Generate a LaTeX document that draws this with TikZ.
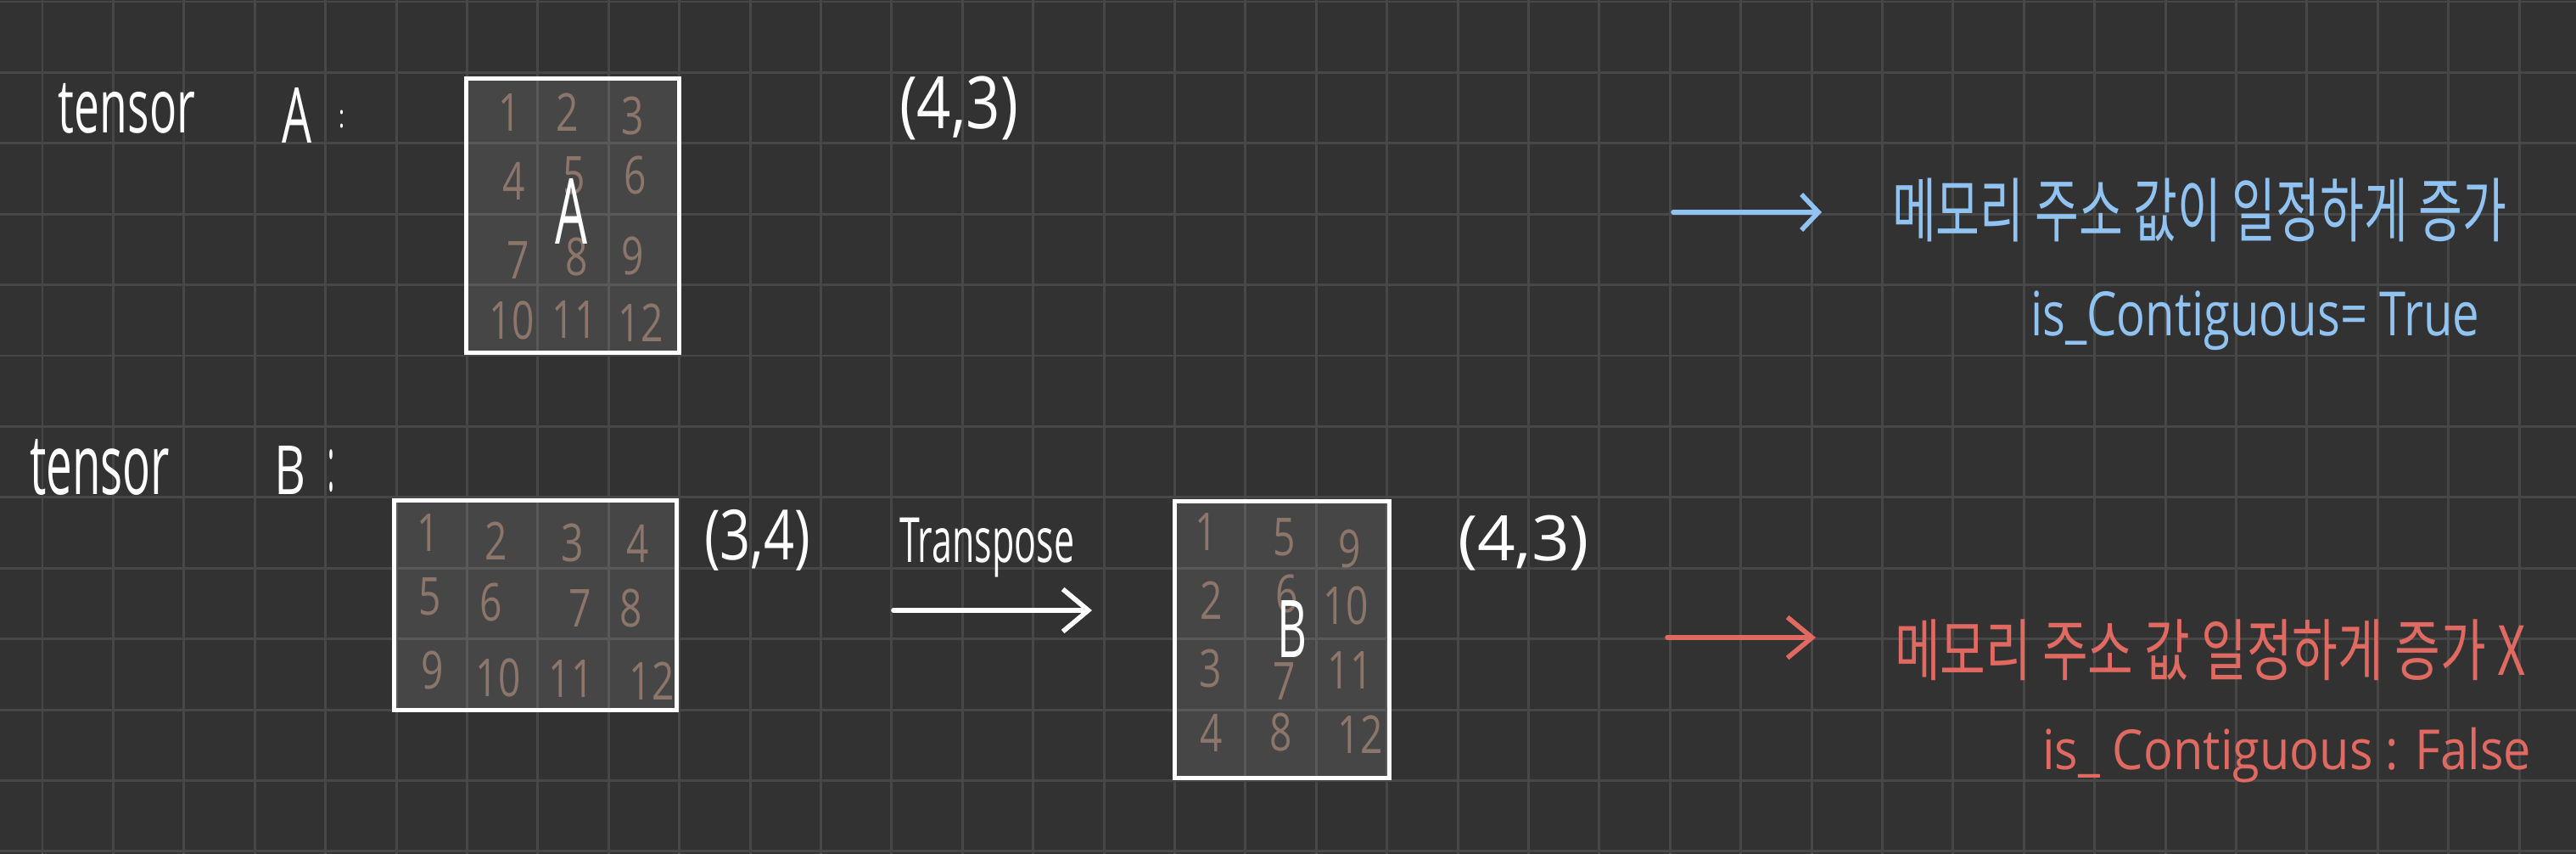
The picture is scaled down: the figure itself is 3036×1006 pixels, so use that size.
\documentclass[tikz,border=0pt]{standalone}
\usepackage{fontspec}
\usepackage{graphicx}
\setmainfont{Open Sans}
\newfontfamily\kor{Noto Sans CJK KR}
\newfontfamily\digitfont[FakeStretch=0.75]{Open Sans}
\usetikzlibrary{arrows.meta}
\definecolor{bg}{HTML}{323232}
\definecolor{gridc}{HTML}{474747}
\definecolor{numc}{HTML}{8C766B}
\definecolor{bluec}{HTML}{90C3F2}
\definecolor{redc}{HTML}{E06A62}
\newcommand\fitbox[3]{\resizebox*{#1cm}{#2cm}{#3}}
\tikzset{
  gridline/.style={draw=gridc, line width=0.85pt},
  tbox/.style={draw=white, line width=1.4pt, fill=white, fill opacity=0.1, draw opacity=1, inner sep=0pt, outer sep=0pt},
  txt/.style={inner sep=0pt, outer sep=0pt, anchor=north west, text=white},
  digit/.style={inner sep=0pt, outer sep=0pt, text=numc, font=\fontsize{17.5pt}{18pt}\digitfont},
  pen/.style={line width=1.6pt, line cap=round, line join=round}
}
\begin{document}
\begin{tikzpicture}[x=0.01cm, y=-0.01cm]
\useasboundingbox (0,0) rectangle (3036,1006);
\fill[bg] (0,0) rectangle (3036,1006);
% grid
\foreach \i in {0,...,35} \draw[gridline] ({50+83.4*\i},0) -- ({50+83.4*\i},1006);
\foreach \j in {0,...,12} \draw[gridline] (0,{2+83.4*\j}) -- (3036,{2+83.4*\j});

% boxes
\node[tbox, minimum width=2.50cm, minimum height=3.22cm] (boxA) at (675,254) {};
\node[tbox, minimum width=3.32cm, minimum height=2.46cm] (boxB) at (631,713) {};
\node[tbox, minimum width=2.52cm, minimum height=3.25cm] (boxT) at (1511,753.5) {};

% labels
\node[txt] (tA) at (69,98) {\fitbox{1.61}{0.59}{tensor}};
\node[txt] (lA) at (332,103) {\fitbox{0.35}{0.65}{A}};
\node[txt] (cA) at (399,130) {\fitbox{0.07}{0.21}{:}};
\node[txt] (tB) at (35,517) {\fitbox{1.65}{0.66}{tensor}};
\node[txt] (lB) at (323,525) {\fitbox{0.37}{0.57}{B}};
\node[txt] (cB) at (386,530) {\fitbox{0.08}{0.50}{:}};

% digits of A
\node[digit] (a1) at (601,133) {1};
\node[digit] (a2) at (669,132) {2};
\node[digit] (a3) at (746,137) {3};
\node[digit] (a4) at (606,213) {4};
\node[digit] (a5) at (677,207) {5};
\node[digit] (a6) at (749,207) {6};
\node[digit] (a7) at (611,307) {7};
\node[digit] (a8) at (680,303) {8};
\node[digit] (a9) at (746,302) {9};
\node[digit] (a10) at (603,377) {10};
\node[digit] (a11) at (677,377) {11};
\node[digit] (a12) at (755,380) {12};
\node[txt] (bigA) at (654,210) {\fitbox{0.38}{0.77}{A}};
\node[txt] (dimA) at (1060,90) {\fitbox{1.40}{0.75}{(4,3)}};

% digits of B
\node[digit] (b1) at (505,628) {1};
\node[digit] (b2) at (585,637) {2};
\node[digit] (b3) at (675,640) {3};
\node[digit] (b4) at (752,640) {4};
\node[digit] (b5) at (507,703) {5};
\node[digit] (b6) at (579,710) {6};
\node[digit] (b7) at (684,717) {7};
\node[digit] (b8) at (744,717) {8};
\node[digit] (b9) at (510,790) {9};
\node[digit] (b10) at (587,798) {10};
\node[digit] (b11) at (673,800) {11};
\node[digit] (b12) at (768,802) {12};
\node[txt] (dim34) at (830,600) {\fitbox{1.25}{0.72}{(3,4)}};

% transpose arrow
\node[txt] (trans) at (1060,610) {\fitbox{2.06}{0.70}{Transpose}};
\coordinate (ta1) at (1053,719);
\coordinate (ta2) at (1287,719);
\draw[pen, white, -{Straight Barb[length=0.3cm,width=0.5cm]}] (ta1) -- (ta2);

% digits of transposed B
\node[digit] (t1) at (1422,627) {1};
\node[digit] (t5) at (1514,633) {5};
\node[digit] (t9) at (1591,647) {9};
\node[digit] (t2) at (1428,707) {2};
\node[digit] (t6) at (1517,700) {6};
\node[digit] (t10) at (1586,713) {10};
\node[digit] (t3) at (1427,788) {3};
\node[digit] (t7) at (1514,803) {7};
\node[digit] (t11) at (1591,790) {11};
\node[digit] (t4) at (1428,863) {4};
\node[digit] (t8) at (1510,863) {8};
\node[digit] (t12) at (1603,865) {12};
\node[txt] (bigB) at (1505,707) {\fitbox{0.35}{0.67}{B}};
\node[txt] (dim43) at (1718,607) {\fitbox{1.55}{0.65}{(4,3)}};

% blue note
\coordinate (ba1) at (1972,250);
\coordinate (ba2) at (2147,250);
\draw[pen, bluec, -{Straight Barb[length=0.2cm,width=0.42cm]}] (ba1) -- (ba2);
\node[txt, text=bluec] (blueK) at (2230,210) {\fitbox{7.24}{0.75}{\kor 메모리 주소 값이 일정하게 증가}};
\node[txt, text=bluec] (blueC) at (2393,343) {\fitbox{5.29}{0.70}{is\_Contiguous= True}};

% red note
\coordinate (ra1) at (1965,751);
\coordinate (ra2) at (2140,751);
\draw[pen, redc, -{Straight Barb[length=0.29cm,width=0.48cm]}] (ra1) -- (ra2);
\node[txt, text=redc] (redK) at (2233,730) {\fitbox{7.43}{0.72}{\kor 메모리 주소 값 일정하게 증가 X}};
\node[txt, text=redc] (redC) at (2407,857) {\fitbox{5.76}{0.65}{is\_ Contiguous : False}};
\end{tikzpicture}
\end{document}
